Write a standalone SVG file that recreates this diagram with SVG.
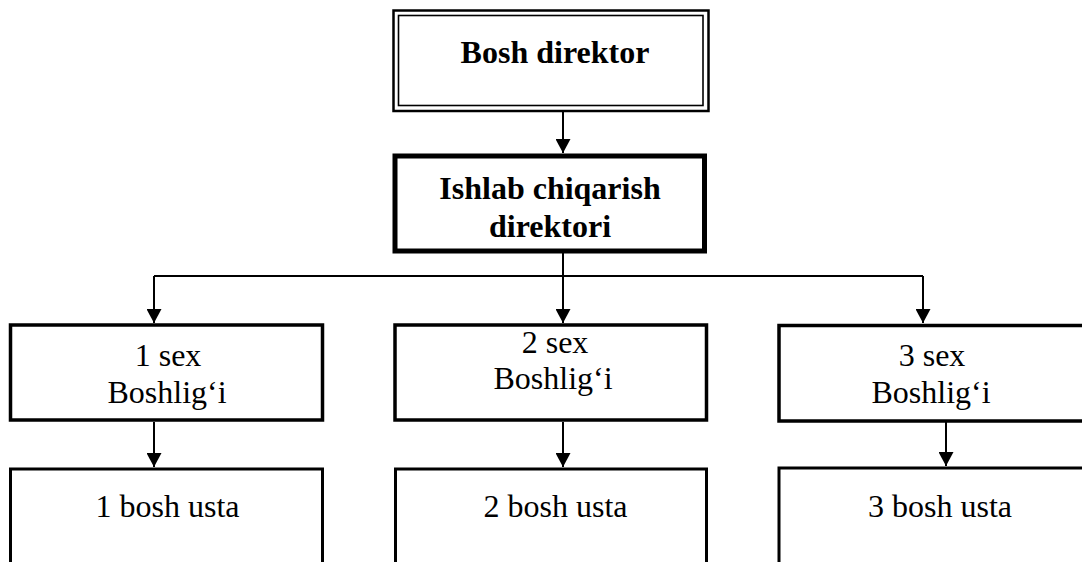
<svg xmlns="http://www.w3.org/2000/svg" width="1082" height="562" viewBox="0 0 1082 562">
  <style>
    .lbl { font-family: "Liberation Serif", "Times New Roman", serif; font-size: 32px; fill: #000; text-anchor: middle; }
    .bold { font-weight: bold; }
    .box { fill: #fff; stroke: #000; }
    .link { fill: none; stroke: #000; stroke-width: 2; }
  </style>
  <defs>
    <marker id="arrow" viewBox="0 0 14 15" refX="14" refY="7.5" markerWidth="14" markerHeight="15" markerUnits="userSpaceOnUse" orient="auto">
      <path d="M0,0 L14,7.5 L0,15 Z" fill="#000"/>
    </marker>
  </defs>

  <rect width="1082" height="562" fill="#fff"/>

  <!-- connectors -->
  <g id="connectors">
    <line class="link" x1="563" y1="111" x2="563" y2="153" marker-end="url(#arrow)"/>
    <line class="link" x1="563" y1="253" x2="563" y2="276"/>
    <line class="link" x1="154" y1="276" x2="923" y2="276" stroke-width="1.6"/>
    <line class="link" x1="154" y1="276" x2="154" y2="323" marker-end="url(#arrow)"/>
    <line class="link" x1="563" y1="276" x2="563" y2="323" marker-end="url(#arrow)"/>
    <line class="link" x1="923" y1="276" x2="923" y2="323" marker-end="url(#arrow)"/>
    <line class="link" x1="154" y1="422" x2="154" y2="467" marker-end="url(#arrow)"/>
    <line class="link" x1="563" y1="422" x2="563" y2="467" marker-end="url(#arrow)"/>
    <line class="link" x1="946" y1="422" x2="946" y2="466" marker-end="url(#arrow)"/>
  </g>

  <!-- top: double-framed box -->
  <g id="bosh-direktor">
    <rect class="box" x="393.5" y="10.5" width="315" height="100.5" stroke-width="2.5"/>
    <rect class="box" x="398.5" y="15.5" width="304.5" height="90" stroke-width="1.6"/>
    <text class="lbl bold" x="555" y="63">Bosh direktor</text>
  </g>

  <g id="ishlab-chiqarish-direktori">
    <rect class="box" x="395" y="156" width="309.5" height="95" stroke-width="5"/>
    <text class="lbl bold" x="550" y="199">Ishlab chiqarish</text>
    <text class="lbl bold" x="550" y="237">direktori</text>
  </g>

  <g id="sex-1">
    <rect class="box" x="10.5" y="325" width="312" height="95" stroke-width="3.5"/>
    <text class="lbl" x="168" y="366">1 sex</text>
    <text class="lbl" x="167" y="403">Boshlig‘i</text>
  </g>

  <g id="sex-2">
    <rect class="box" x="395" y="325" width="311.5" height="95" stroke-width="3.5"/>
    <text class="lbl" x="555" y="353">2 sex</text>
    <text class="lbl" x="553" y="389">Boshlig‘i</text>
  </g>

  <g id="sex-3">
    <rect class="box" x="779" y="325.5" width="320" height="95.5" stroke-width="3.5"/>
    <text class="lbl" x="932" y="366">3 sex</text>
    <text class="lbl" x="931" y="403">Boshlig‘i</text>
  </g>

  <g id="usta-1">
    <rect class="box" x="10.5" y="469" width="312" height="110" stroke-width="3"/>
    <text class="lbl" x="167.5" y="517">1 bosh usta</text>
  </g>

  <g id="usta-2">
    <rect class="box" x="395.5" y="469" width="311" height="110" stroke-width="3"/>
    <text class="lbl" x="555.5" y="517">2 bosh usta</text>
  </g>

  <g id="usta-3">
    <rect class="box" x="779" y="468" width="320" height="110" stroke-width="3"/>
    <text class="lbl" x="940" y="517">3 bosh usta</text>
  </g>
</svg>
